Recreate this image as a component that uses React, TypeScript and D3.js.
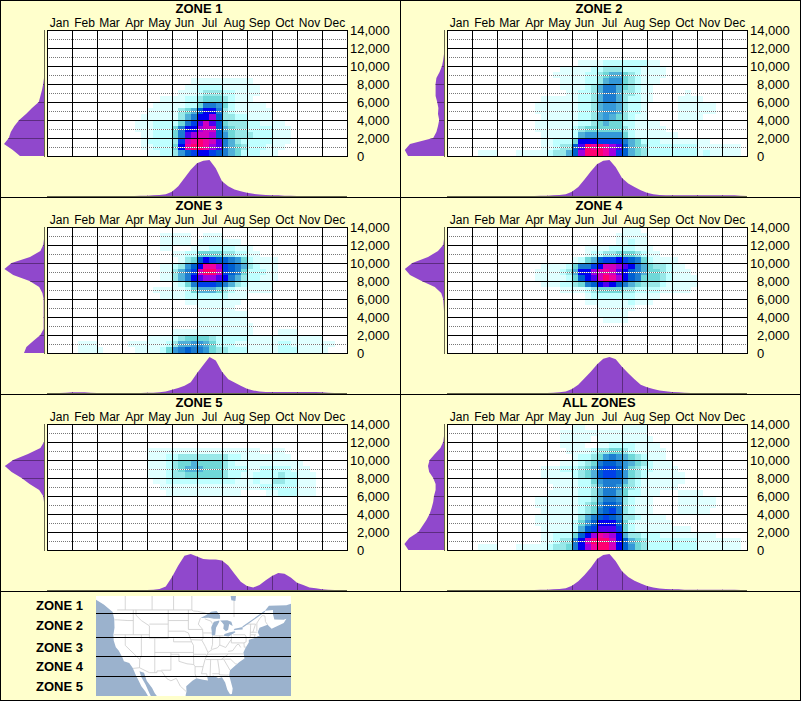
import * as d3 from "d3"

/* ----------------------- data ------------------------- */

const months = ["Jan", "Feb", "Mar", "Apr", "May", "Jun", "Jul", "Aug", "Sep", "Oct", "Nov", "Dec"]
const altTicks = [0, 2000, 4000, 6000, 8000, 10000, 12000, 14000]
const altMinor = [1000, 3000, 5000, 7000, 9000, 11000, 13000]
const zoneLabels = ["ZONE 1", "ZONE 2", "ZONE 3", "ZONE 4", "ZONE 5"]
const levelKeys = "123456789abcdef".split("")
const levelColors = ["#e0ffff", "#bfffff", "#98e8e8", "#70d8d8", "#50b0d8", "#3498d8", "#1c7cd0", "#0060d0", "#0040e8", "#0000f0", "#5000f0", "#a000e0", "#d000c0", "#f000a0", "#ff0070"]

// one string per altitude row (top = 14,000), one char per quarter month, grouped by month
const ____ = "0000 0000 0000 0000 0000 0000 0000 0000 0000 0000 0000 0000"

const zone1Rows = [
  ____, ____, ____, ____, ____, ____, ____, ____,
  "0000 0000 0000 0000 0000 0001 1111 1111 1000 0000 0000 0000",
  "0000 0000 0000 0000 0000 0011 2222 1111 1100 0000 0000 0000",
  "0000 0000 0000 0000 0000 0111 2333 2211 1100 0000 0000 0000",
  "0000 0000 0000 0000 0011 1122 3444 3211 1000 0000 0000 0000",
  "0000 0000 0000 0000 0111 1122 4776 4211 1110 0000 0000 0000",
  "0000 0000 0000 0000 1111 1345 8aa7 3211 1111 0000 0000 0000",
  "0000 0000 0000 0001 1111 1357 aac8 3322 1111 0000 0000 0000",
  "0000 0000 0000 0011 1222 2479 bdb8 4333 2211 1100 0000 0000",
  "0000 0000 0000 0011 1222 47aa cdd8 5433 2222 1110 0000 0000",
  "0000 0000 0000 0001 1222 47bc ddc8 6433 3222 1110 0000 0000",
  "0000 0000 0000 0001 2222 39de fedb 7532 2222 1110 0000 0000",
  "0000 0000 0000 0001 1222 4aef fecb 7543 2221 1100 0000 0000",
  "0000 0000 0000 0000 1122 3689 aa98 7542 2211 1000 0000 0000",
]

const zone2Rows = [
  ____, ____, ____, ____, ____,
  "0000 0000 0000 0000 0000 0111 1222 2222 1100 0000 0000 0000",
  "0000 0000 0000 0000 0011 1112 2333 2221 1110 0000 0000 0000",
  "0000 0000 0000 0000 0111 1122 3455 4321 1110 0000 0000 0000",
  "0000 0000 0000 0000 0011 1122 3566 4321 1100 0000 0000 0000",
  "0000 0000 0000 0000 0011 1123 5775 4321 1000 0000 0000 0000",
  "0000 0000 0000 0000 0001 1223 5775 3321 1000 0010 0000 0000",
  "0000 0000 0000 0001 1111 1223 5775 3221 1000 0111 1000 0000",
  "0000 0000 0000 0011 1111 1223 5665 3221 0000 0111 1110 0000",
  "0000 0000 0000 0011 1111 1223 5665 3221 0000 0111 1110 0000",
  "0000 0000 0000 0001 1111 1223 5654 3211 0000 0111 1000 0000",
  "0000 0000 0000 0011 1111 1223 4544 2211 1100 0000 0000 0000",
  "0000 0000 0000 0011 1111 2344 4444 3211 1110 0000 0000 0000",
  "0000 0000 0000 0001 1111 2566 6666 4211 1111 1000 0000 0000",
  "0000 0000 0000 0001 1222 4aaa 9999 7542 2211 1111 1100 0000",
  "0000 0000 0000 0001 1233 8bfe fecb 8543 2222 2222 1111 1110",
  "0000 0111 0001 1111 2335 8cff fec9 8543 2222 2222 1211 1110",
]

const zone3Rows = [
  ____,
  "0000 0000 0000 0000 0011 1110 0111 0000 0000 0000 0000 0000",
  "0000 0000 0000 0000 0011 1110 1111 1110 0000 0000 0000 0000",
  "0000 0000 0000 0000 0011 0001 1122 2211 1000 0000 0000 0000",
  "0000 0000 0000 0000 0000 1122 4444 3322 1100 0000 0000 0000",
  "0000 0000 0000 0000 0000 0134 8a98 8764 2111 1000 0000 0000",
  "0000 0000 0000 0000 0011 2368 aeec 9875 3211 1000 0000 0000",
  "0000 0000 0000 0000 0011 3579 dffd 9874 2221 1000 0000 0000",
  "0000 0000 0000 0000 0011 357a bccb a753 2211 1000 0000 0000",
  "0000 0000 0000 0000 0000 1247 9998 7532 1111 0000 0000 0000",
  "0000 0000 0000 0000 0111 1124 5554 3211 1111 0000 0000 0000",
  "0000 0000 0000 0000 0011 1122 2222 2111 0000 0000 0000 0000",
  "0000 0000 0000 0000 0000 0011 1111 1110 0000 0000 0000 0000",
  "0000 0000 0000 0000 0000 0000 1111 1100 0000 0000 0000 0000",
  "0000 0000 0000 0000 0000 0000 1111 1111 0000 0000 0000 0000",
  "0000 0000 0000 0000 0000 0000 1111 1111 0000 0000 0000 0000",
  "0000 0000 0000 0000 0000 0000 1111 1111 1000 0000 0000 0000",
  "0000 0000 0000 0000 0000 1111 1111 1111 1000 0111 0000 0000",
  "0000 0000 0000 0000 1111 2344 4432 2222 1111 1111 1111 0000",
  "0000 0111 0000 0111 1112 3556 6542 2211 1111 1221 1111 1100",
  "0000 0111 1000 0011 1124 6787 7643 3222 1111 1222 1111 1000",
]

const zone4Rows = [
  "0000 0000 0000 0000 0000 0000 0000 1110 0000 0000 0000 0000",
  "0000 0000 0000 0000 0000 0000 0001 1111 0000 0000 0000 0000",
  "0000 0000 0000 0000 0000 0000 0001 1211 0000 0000 0000 0000",
  "0000 0000 0000 0000 0000 0011 1122 2211 1000 0000 0000 0000",
  "0000 0000 0000 0000 0000 0012 2334 4432 1100 0000 0000 0000",
  "0000 0000 0000 0000 0000 1245 899a 9874 2111 1000 0000 0000",
  "0000 0000 0000 0001 1112 4779 addc ba75 4332 1100 0000 0000",
  "0000 0000 0000 0011 1123 5aac dedb a875 4432 1110 0000 0000",
  "0000 0000 0000 0011 1112 48ab dfec a874 4432 1111 0000 0000",
  "0000 0000 0000 0001 1122 3478 aba8 7543 3321 1111 0000 0000",
  "0000 0000 0000 0000 0011 1123 4444 3322 2211 1110 0000 0000",
  "0000 0000 0000 0000 0000 0012 2222 2211 1100 0000 0000 0000",
  "0000 0000 0000 0000 0000 0011 1111 1211 1000 0000 0000 0000",
  "0000 0000 0000 0000 0000 0000 1111 1100 0000 0000 0000 0000",
  "0000 0000 0000 0000 0000 0000 1111 1000 0000 0000 0000 0000",
  "0000 0000 0000 0000 0000 0000 0111 1000 0000 0000 0000 0000",
  ____, ____, ____, ____, ____,
]

const zone5Rows = [
  ____, ____, ____, ____,
  "0000 0000 0000 0000 1111 1111 1111 1111 1100 1100 0000 0000",
  "0000 0000 0000 0000 1112 2333 3333 3221 1111 1110 0000 0000",
  "0000 0000 0000 0000 1112 3445 4444 3211 1111 1111 1000 0000",
  "0000 0000 0000 0000 1112 3455 5444 3222 1122 2221 1100 0000",
  "0000 0000 0000 0000 1112 3344 4444 3221 1222 2322 1110 0000",
  "0000 0000 0000 0000 0112 2222 2222 2211 1211 3322 1110 0000",
  "0000 0000 0000 0000 0011 1111 1111 1111 1122 2222 1110 0000",
  "0000 0000 0000 0000 0001 1111 1111 1110 0001 1222 1110 0000",
  ____, ____, ____, ____, ____, ____, ____, ____, ____,
]

const allRows = [
  "0000 0000 0000 0000 0000 1100 0000 1111 0000 0000 0000 0000",
  "0000 0000 0000 0000 0011 1111 1111 1111 0000 0000 0000 0000",
  "0000 0000 0000 0000 0011 1110 1111 1111 1000 0000 0000 0000",
  "0000 0000 0000 0000 0011 1100 1122 2211 1100 0000 0000 0000",
  "0000 0000 0000 0000 0001 1112 3344 3211 1110 0000 0000 0000",
  "0000 0000 0000 0000 0000 1223 4676 5432 1110 0000 0000 0000",
  "0000 0000 0000 0000 0011 1234 7887 6543 2111 0000 0000 0000",
  "0000 0000 0000 0001 1122 2345 8998 6432 2111 1000 0000 0000",
  "0000 0000 0000 0001 1111 2345 8998 6432 1111 1100 0000 0000",
  "0000 0000 0000 0000 1111 1224 6777 5321 1111 1100 0000 0000",
  "0000 0000 0000 0000 0111 1223 5776 4321 1111 1000 0000 0000",
  "0000 0000 0000 0000 1111 1223 5775 4221 1100 0111 1000 0000",
  "0000 0000 0000 0011 1111 1223 5776 3211 1000 0111 1110 0000",
  "0000 0000 0000 0011 1111 1234 6887 3211 1000 0111 1110 0000",
  "0000 0000 0000 0001 1111 1234 7897 3211 1000 0111 1100 0000",
  "0000 0000 0000 0011 1111 1357 8987 3321 1110 0000 0000 0000",
  "0000 0000 0000 0011 1111 2468 aaa8 4211 1111 0000 0000 0000",
  "0000 0000 0000 0001 1111 2589 bbb9 4211 1111 1110 0000 0000",
  "0000 0000 0000 0001 1222 48ac edca 5332 2211 1111 1110 0000",
  "0000 0000 0000 0001 1233 7adf ffda 8543 2222 2222 1111 1110",
  "0000 0111 0001 1111 2334 7ace ffda 8643 2222 2222 1111 1110",
]

// month profile, percent of peak, at each quarter month edge
const zone1Month = [0,0,0,0,0,0,0,0,0,0,0,0,0,0,0,1,1,2,3,5,12,27,50,73,91,98,100,77,41,27,18,13,9,6,4,3,2,2,1,1,0,0,0,0,0,0,0,0,0]
const zone2Month = [0,0,0,0,0,0,0,0,0,0,0,0,0,0,0,1,1,2,3,5,12,25,46,68,88,98,100,80,50,35,25,16,9,5,3,2,2,2,2,2,2,2,2,2,2,2,2,1,0]
const zone3Month = [0,0,0,1,2,2,2,1,0,0,0,0,0,0,0,0,1,1,2,4,9,14,20,30,55,78,100,90,59,38,29,20,12,7,4,3,3,3,3,3,3,3,3,3,2,1,0,0,0]
const zone4Month = [0,0,0,0,0,0,0,0,0,0,0,0,0,0,0,0,0,1,2,4,11,23,41,59,79,95,100,94,73,55,38,23,16,11,7,5,3,2,1,0,0,0,0,0,0,0,0,0,0]
const zone5Month = [0,0,0,0,0,0,0,0,0,0,0,0,0,0,0,0,0,1,3,10,36,68,95,100,93,86,85,85,82,68,45,23,11,7,14,27,39,47,45,35,20,14,7,5,2,1,0,0,0]
const allMonth = [0,0,0,0,0,0,0,0,0,0,0,0,0,0,0,1,1,2,3,5,12,24,42,62,86,97,100,80,52,36,26,18,11,7,4,3,2,2,1,1,1,1,1,1,1,1,1,0,0]

// altitude profile, percent of peak, at each row edge from the top
const zone1Alt = [0,0,0,0,0,0,0,0,0,2,5,9,13,30,45,62,74,83,88,100,78,60]
const zone2Alt = [0,0,0,0,0,2,5,11,19,21,21,21,17,14,15,12,15,19,27,85,98,90]
const zone3Alt = [0,0,0,2,9,35,81,99,77,36,12,4,1,1,1,1,1,1,9,27,44,50]
const zone4Alt = [0,0,0,2,15,40,79,98,85,56,23,7,2,1,0,0,0,0,0,0,0,0]
const zone5Alt = [0,0,0,0,9,40,77,98,81,56,36,12,2,0,0,0,0,0,0,0,0,0]
const allAlt = [0,0,0,2,9,23,36,40,37,27,21,21,25,27,31,36,44,54,64,87,99,89]

// basemap outlines as lon, lat
const landOutline = [[-134,56],[-132,52.4],[-128,50.5],[-125,48.6],[-124.7,48.4],[-124.1,46.5],[-124,44],[-124.4,42],[-124.3,40.4],[-123.5,38.5],[-122.4,37.5],[-121,35.5],[-120.5,34.5],[-118.5,34],[-117.2,32.6],[-116,30.5],[-115,29],[-114,27.5],[-112.5,26],[-111,24],[-110,24],[-111,25.5],[-112.5,28],[-114,30],[-114.7,31.7],[-113,31.3],[-112,29],[-110,27],[-109,25.5],[-108,24.5],[-106,23],[-97.7,22.5],[-97.5,25],[-97.2,26],[-97.3,27.5],[-95,29],[-93.5,29.7],[-91,29.3],[-89.2,29.1],[-89.5,30.2],[-87,30.4],[-85.3,29.7],[-84,30],[-82.8,28.5],[-82,26.5],[-81,25.2],[-80.3,25.3],[-80,26.8],[-81.3,30.5],[-81,32],[-79,33.3],[-77.5,34.3],[-75.6,35.3],[-76,37],[-75.2,38.3],[-74,39.8],[-74,40.6],[-72,41],[-70.7,41.6],[-70,41.7],[-70.7,42.7],[-70,44],[-67,44.8],[-65.5,43.7],[-61,45.3],[-60,46.5],[-61,46.2],[-64.5,46.3],[-65,47.8],[-65,49],[-68,48.8],[-66.5,50.2],[-60,50.3],[-56,51.4],[-56,56]]
const waterBodies = [
  [[-81,54],[-80.5,51.7],[-79,51.5],[-78.6,54]],
  [[-92,46.7],[-90,47.5],[-88,48.5],[-86,48.7],[-84.7,47.5],[-84.7,46.5],[-87,46.5],[-89,46.8]],
  [[-87.8,42],[-87.5,41.7],[-86.5,42],[-86.2,44],[-85,45.7],[-85,46],[-87,45.7],[-87.8,44.5],[-88,44],[-87.8,43]],
  [[-84.7,46],[-84,45.5],[-83.3,44.8],[-83.5,43.7],[-82.5,43],[-81.7,43.4],[-81.3,45],[-80,44.5],[-80.5,45.7],[-82,46.1]],
  [[-83.4,41.7],[-81.5,41.5],[-79,42.7],[-79.2,43],[-81,42.7],[-83,42.2]],
  [[-79.7,43.3],[-78,43.4],[-76.3,43.5],[-76.3,44.2],[-77.5,44],[-79.3,43.7]],
]
const stLawrence = [[-76.3,44.2],[-74,45.4],[-71,47],[-68,48.6]]
const borders = [
  [[-123,49],[-95.2,49],[-94.6,48.7],[-93,48.6],[-90,48.1]],
  [[-124,46.2],[-123,46.2],[-119,46],[-117,46]],
  [[-117,49],[-117,42]],
  [[-124.2,42],[-111,42]],
  [[-120,42],[-120,39],[-114.6,35]],
  [[-114,42],[-114,36],[-114.6,35],[-114.7,32.7]],
  [[-109,41],[-109,31.3]],
  [[-116,49],[-116,47.5],[-114,46],[-111,44.5],[-111,41]],
  [[-111,45],[-104,45],[-104,41],[-111,41]],
  [[-104,46],[-96.5,46]],
  [[-104,49],[-104,45]],
  [[-104,43],[-98,43],[-96.5,42.5]],
  [[-102,41],[-102,40],[-95.3,40]],
  [[-109,37],[-94.6,37]],
  [[-103,37],[-103,32],[-106.6,32]],
  [[-100,36.5],[-103,36.5]],
  [[-100,36.5],[-100,34.5],[-97,33.8],[-94.5,33.6]],
  [[-106.5,31.8],[-104.5,29.6],[-103,29],[-101,29.7],[-99.5,27.5],[-97.2,25.9]],
  [[-117.1,32.5],[-114.7,32.7],[-111,31.3],[-108.2,31.3],[-108.2,31.8],[-106.5,31.8]],
  [[-96.5,49],[-96.5,43.5],[-91.2,43.5]],
  [[-96.5,42.5],[-95.3,40],[-94.6,39],[-94.6,36.5],[-94.5,33.6],[-94,33],[-94,31],[-93.5,29.7]],
  [[-92,46.7],[-92.8,45],[-91.2,43.5],[-91,41],[-91.5,40.5],[-90.2,38.7],[-89.2,37],[-89.7,36],[-90.3,35],[-91,33],[-91.6,31],[-89.7,31],[-89.5,30.2]],
  [[-94.6,36.5],[-90,36.5],[-89.7,36]],
  [[-94,33],[-91,33]],
  [[-90,35],[-84.3,35],[-81.7,36.5]],
  [[-89.5,36.5],[-81.7,36.6],[-75.9,36.6]],
  [[-88.2,35],[-88.4,30.3]],
  [[-85.6,35],[-85,32],[-85,31],[-84.9,30.7]],
  [[-87.6,31],[-85,31],[-84.9,30.7],[-82.2,30.6],[-81.5,30.7]],
  [[-83.3,35],[-81,32]],
  [[-84.3,35],[-83,35.1],[-80.8,35.1],[-79,33.8],[-78.5,33.8]],
  [[-89.2,37],[-87.5,37.9],[-85.7,38.3],[-84.8,39.1],[-82.6,38.4],[-80.6,40.6]],
  [[-87.5,41.7],[-87.5,39.3],[-88,37.9]],
  [[-84.8,41.7],[-84.8,39.1]],
  [[-87,41.7],[-83.4,41.7]],
  [[-91,42.5],[-87.8,42.5]],
  [[-90.4,46.5],[-88,45.8],[-87.6,45.1]],
  [[-80.5,42],[-80.5,39.7],[-75.8,39.7],[-75,40],[-75,41.4],[-75.4,42],[-79.8,42]],
  [[-73.5,41.2],[-73.3,45]],
  [[-71.5,45],[-72.5,42.7]],
  [[-73.5,42.7],[-71,42.7]],
  [[-73.5,42],[-71.4,42]],
  [[-71.8,41.3],[-71.8,42]],
  [[-71,43],[-71,45.3],[-70,46.5],[-69,47.4],[-68,47.3],[-67.8,45.7],[-67,44.8]],
  [[-74.7,45],[-71.5,45]],
  [[-81.7,37.3],[-80,37.5],[-78.4,39.2],[-77.7,39.3],[-77,38.4]],
  [[-95.6,40.6],[-91.5,40.5]],
  [[-75.8,39.7],[-75.7,38.5],[-75,38.5]],
  [[-120,49],[-120,55]],
  [[-110,49],[-110,55]],
  [[-102,49],[-102,55]],
  [[-95.2,49],[-95.2,53],[-89,56]],
  [[-79.5,47],[-79.5,52]],
]

const panels = [
  { title: "ZONE 1", rows: zone1Rows, month: zone1Month, alt: zone1Alt },
  { title: "ZONE 2", rows: zone2Rows, month: zone2Month, alt: zone2Alt },
  { title: "ZONE 3", rows: zone3Rows, month: zone3Month, alt: zone3Alt },
  { title: "ZONE 4", rows: zone4Rows, month: zone4Month, alt: zone4Alt },
  { title: "ZONE 5", rows: zone5Rows, month: zone5Month, alt: zone5Alt },
  { title: "ALL ZONES", rows: allRows, month: allMonth, alt: allAlt },
]

/* ----------------------- scales ------------------------- */

const font = "'Liberation Sans', Arial, sans-serif"
const bg = "#ffffcc"
const purple = "#9048cc"
const purpleDark = "#5c2c80"
const axisGrey = "#66664c"

const panelW = 400
const panelH = 197
const xScale = d3.scaleLinear().domain([0, 48]).range([47, 347])
const monthX = d3.scaleBand<string>().domain(months).range([47, 347])
const yScale = d3.scaleLinear().domain([0, 14000]).range([156, 30])
const rowY = d3.scaleLinear().domain([0, 21]).range([30, 156])
const colorScale = d3.scaleOrdinal<string, string>().domain(levelKeys).range(levelColors)
const monthH = d3.scaleLinear().domain([0, 100]).range([196, 160])
const altW = d3.scaleLinear().domain([0, 100]).range([44, 4])

const monthArea = d3.area<number>().x((_, i) => xScale(i)).y0(196).y1(d => monthH(d))
const altArea = d3.area<number>().y((_, i) => rowY(i)).x0(44).x1(d => altW(d))

const mapLon = d3.scaleLinear().domain([-117, -81]).range([133.3, 230])
const mapLat = d3.scaleLinear().domain([48.5, 25]).range([611.7, 695])
const mapLine = d3.line<number[]>().x(d => mapLon(d[0])).y(d => mapLat(d[1]))
const zoneLineY = [613.5, 637.5, 656.5, 676.5]
const zoneLabelY = [610, 630, 652, 671, 691]

function Panel({ p, i }: any) {
  const px = (i % 2) * panelW
  const py = Math.floor(i / 2) * panelH
  const cells: any[] = []
  p.rows.forEach((row: string, r: number) => {
    row.replace(/ /g, "").split("").forEach((c, k) => {
      if (c === "0") return
      const x0 = Math.round(xScale(k))
      cells.push(<rect key={r + "-" + k} x={x0} y={rowY(r)} width={Math.round(xScale(k + 1)) - x0} height={rowY(r + 1) - rowY(r)} fill={colorScale(c)} shapeRendering="crispEdges" />)
    })
  })
  return (
    <g transform={`translate(${px},${py})`}>
      <text x={199} y={13} textAnchor="middle" fontSize={13} fontWeight="bold" fill="#000">{p.title}</text>
      {months.map(m => (
        <text key={m} x={monthX(m)! + monthX.bandwidth() / 2} y={27} textAnchor="middle" fontSize={12} fill="#000">{m}</text>
      ))}
      {altTicks.map(t => (
        <text key={t} x={t >= 10000 ? 350 : 357} y={yScale(t) + 5} fontSize={13} fill="#000">{d3.format(",")(t)}</text>
      ))}
      <rect x={47} y={30} width={300} height={126} fill="#fff" />
      {cells}
      {altMinor.map(t => (
        <g key={t}>
          <line x1={47} x2={347} y1={yScale(t) + 0.5} y2={yScale(t) + 0.5} stroke="#fff" />
          <line x1={47} x2={347} y1={yScale(t) + 0.5} y2={yScale(t) + 0.5} stroke="#777" strokeDasharray="1 1" />
        </g>
      ))}
      {altTicks.map(t => (
        <line key={t} x1={47} x2={348} y1={yScale(t) + 0.5} y2={yScale(t) + 0.5} stroke="#000" />
      ))}
      {d3.range(13).map(m => (
        <line key={m} x1={xScale(m * 4) + 0.5} x2={xScale(m * 4) + 0.5} y1={30} y2={157} stroke="#000" />
      ))}

      <clipPath id={`alt-${i}`}><path d={altArea(p.alt)!} /></clipPath>
      <clipPath id={`mon-${i}`}><path d={monthArea(p.month)!} /></clipPath>
      <path d={altArea(p.alt)!} fill={purple} />
      <path d={monthArea(p.month)!} fill={purple} />
      <g clipPath={`url(#alt-${i})`}>
        {altTicks.map(t => (
          <line key={t} x1={4} x2={44} y1={yScale(t) + 0.5} y2={yScale(t) + 0.5} stroke={purpleDark} />
        ))}
      </g>
      <g clipPath={`url(#mon-${i})`}>
        {d3.range(13).map(m => (
          <line key={m} x1={xScale(m * 4) + 0.5} x2={xScale(m * 4) + 0.5} y1={160} y2={196} stroke={purpleDark} />
        ))}
      </g>
      <line x1={44.5} x2={44.5} y1={30} y2={157} stroke={axisGrey} />
      <line x1={47} x2={347} y1={196.5} y2={196.5} stroke={axisGrey} />
    </g>
  )
}

function MapKey() {
  return (
    <g>
      {zoneLabels.map((z, i) => (
        <text key={z} x={36} y={zoneLabelY[i]} fontSize={13} fontWeight="bold" fill="#000">{z}</text>
      ))}
      <clipPath id="map-clip"><rect x={96} y={596} width={195} height={100} /></clipPath>
      <g clipPath="url(#map-clip)">
        <rect x={96} y={596} width={195} height={100} fill="#9bb2cd" />
        <path d={mapLine(landOutline as number[][]) + "Z"} fill="#fff" />
        {borders.map((b, i) => (
          <path key={i} d={mapLine(b as number[][])!} fill="none" stroke="#cccccc" strokeWidth={0.8} />
        ))}
        {waterBodies.map((w, i) => (
          <path key={i} d={mapLine(w as number[][]) + "Z"} fill="#9bb2cd" />
        ))}
        <path d={mapLine(stLawrence as number[][])!} fill="none" stroke="#9bb2cd" strokeWidth={1.2} />
      </g>
      {zoneLineY.map(y => (
        <line key={y} x1={96} x2={291} y1={y} y2={y} stroke="#000" />
      ))}
    </g>
  )
}

export default function App() {
  return (
    <svg width={801} height={701} fontFamily={font} style={{ position: "absolute", left: 0, top: 0, display: "block" }}>
      <rect width={801} height={701} fill={bg} />
      {panels.map((p, i) => <Panel key={p.title} p={p} i={i} />)}
      <MapKey />
      {/* panel frames */}
      <g stroke="#000" fill="none">
        <rect x={0.5} y={0.5} width={800} height={700} />
        <line x1={400.5} x2={400.5} y1={0} y2={591} />
        {[197.5, 394.5, 591.5].map(y => <line key={y} x1={0} x2={801} y1={y} y2={y} />)}
      </g>
    </svg>
  )
}
